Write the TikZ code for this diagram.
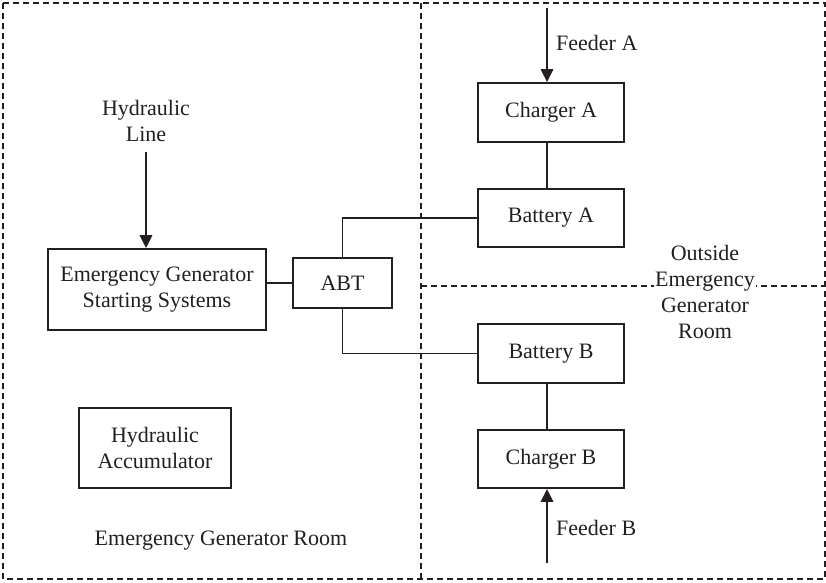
\documentclass[tikz,border=0pt]{standalone}
\usepackage{fontspec}
\setmainfont{Liberation Serif}
\usetikzlibrary{arrows.meta}
\definecolor{ink}{HTML}{231F20}
\begin{document}
\begin{tikzpicture}[x=1pt,y=-1pt,
  every node/.style={text=ink,font=\fontsize{22}{26}\selectfont,align=center},
  unit/.style={draw=ink,line width=1.6pt,inner sep=0pt},
  wire/.style={draw=ink,line width=1.5pt},
  feed/.style={draw=ink,line width=2.8pt,-{Triangle[length=13pt,width=12pt]}},
  room/.style={draw=ink,line width=1.3pt,dash pattern=on 6pt off 4pt},
  tag/.style={inner sep=1pt}]
\useasboundingbox (0,0) rectangle (826,582);

% room boundaries
\draw[room] (3,3) rectangle (825,579);
\draw[room] (421,3) -- (421,579);
\draw[room] (421,286) -- (825,286);

% equipment
\node[unit,minimum width=218pt,minimum height=81pt] (egss) at (157,289.5) {Emergency Generator\\Starting Systems};
\node[unit,minimum width=99pt,minimum height=50pt] (abt) at (342.5,283) {ABT};
\node[unit,minimum width=152pt,minimum height=80pt] (acc) at (155,448) {Hydraulic\\Accumulator};
\node[unit,minimum width=146pt,minimum height=59pt] (chA) at (551,112.5) {Charger A};
\node[unit,minimum width=146pt,minimum height=58pt] (batA) at (551,218) {Battery A};
\node[unit,minimum width=146pt,minimum height=59pt] (batB) at (551,353.5) {Battery B};
\node[unit,minimum width=146pt,minimum height=58pt] (chB) at (551,459) {Charger B};

% labels
\node[tag] (hyd) at (146,121) {Hydraulic\\Line};
\node[tag,anchor=west] (fA) at (555,43) {Feeder A};
\node[tag,anchor=west] (fB) at (555,528) {Feeder B};
\node[tag] (inroom) at (221,541) {Emergency Generator Room};
\node[tag,fill=white] (outroom) at (705,292) {Outside\\Emergency\\Generator\\Room};

% supply inputs
\coordinate (hydsrc) at (146,152);
\coordinate (fAsrc) at (547,8);
\coordinate (fBsrc) at (547,563);
\draw[feed] (hydsrc) -- (hydsrc |- egss.north);
\draw[feed] (fAsrc) -- (fAsrc |- chA.north);
\draw[feed] (fBsrc) -- (fBsrc |- chB.south);

% wiring
\draw[wire] (egss.east |- abt.west) -- (abt.west);
\draw[wire] (abt.north) |- (batA.west);
\draw[wire] (abt.south) |- (batB.west);
\draw[wire] (chA.south -| fAsrc) -- (batA.north -| fAsrc);
\draw[wire] (batB.south -| fBsrc) -- (chB.north -| fBsrc);
\end{tikzpicture}
\end{document}
